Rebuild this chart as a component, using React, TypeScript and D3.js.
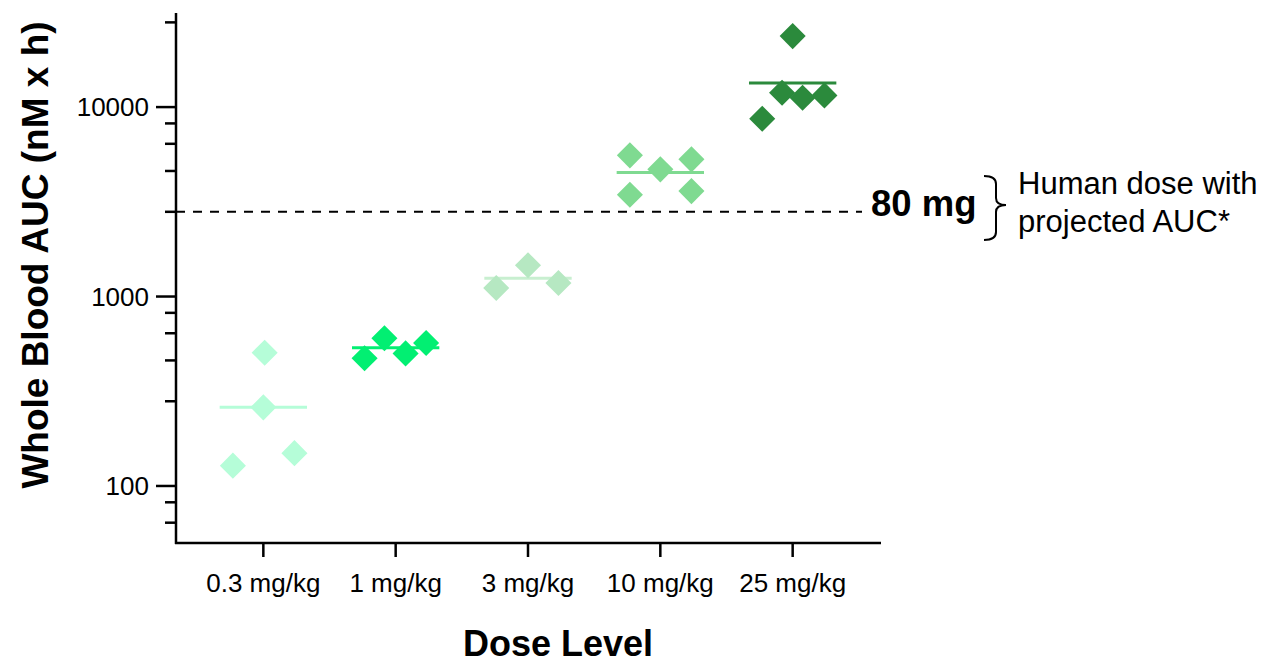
import React from "react";
import * as d3 from "d3";

const categories = ["0.3 mg/kg", "1 mg/kg", "3 mg/kg", "10 mg/kg", "25 mg/kg"];
const values0 = [505, 260, 128, 149];
const values1 = [602, 472, 501, 568];
const values2 = [1461, 1109, 1178];
const values3 = [5561, 4691, 5297, 3449, 3602];
const values4 = [23700, 11912, 11210, 11527, 8685];
const jitter0 = [0.01, 0, -0.23, 0.235];
const jitter1 = [-0.085, -0.235, 0.075, 0.23];
const jitter2 = [0, -0.24, 0.23];
const jitter3 = [-0.23, 0, 0.235, -0.23, 0.235];
const jitter4 = [0, -0.08, 0.075, 0.24, -0.23];
const colors = ["#b5fdd8", "#02ef72", "#b6e8c2", "#7fda91", "#2b8a3c"];
const lineColors = ["#b5fdd8", "#02ef72", "#c8efd0", "#7fda91", "#2b8a3c"];
const majorTicks = [100, 1000, 10000];
const minorTicks = [64, 82, 280, 460, 640, 820, 2800, 4600, 6400, 8200, 28000];
const referenceAUC = 2800;

const allValues = [values0, values1, values2, values3, values4];
const allJitter = [jitter0, jitter1, jitter2, jitter3, jitter4];

const FONT = "'Liberation Sans', Arial, Helvetica, sans-serif";

export default function App() {
  const width = 1268;
  const height = 663;
  const axisX = 176;
  const axisY = 543;

  const x = d3.scalePoint<string>().domain(categories).range([axisX, 880]).padding(0.66);
  const y = d3.scaleLog().domain([50, 31000]).range([axisY, 14]);
  const step = x.step();
  const diamond = d3.symbol().type(d3.symbolSquare).size(340)()!;

  return (
    <svg width={width} height={height} style={{ position: "absolute", left: 0, top: 0, background: "#fff" }}>
      {/* dashed reference */}
      <line x1={axisX} x2={862} y1={y(referenceAUC)} y2={y(referenceAUC)} stroke="#000" strokeWidth={2} strokeDasharray="9 8" />

      {/* data */}
      {allValues.map((vals, gi) => {
        const cx = x(categories[gi])!;
        const mean = d3.mean(vals)!;
        return (
          <g key={gi}>
            <line x1={cx - step * 0.33} x2={cx + step * 0.33} y1={y(mean)} y2={y(mean)} stroke={lineColors[gi]} strokeWidth={3} />
            {vals.map((v, i) => (
              <path key={i} d={diamond} fill={colors[gi]} transform={`translate(${cx + allJitter[gi][i] * step},${y(v)}) rotate(45)`} />
            ))}
          </g>
        );
      })}

      {/* y axis */}
      <line x1={axisX} x2={axisX} y1={13} y2={axisY + 1} stroke="#000" strokeWidth={2.5} />
      {majorTicks.map((t) => (
        <g key={t}>
          <line x1={axisX - 20} x2={axisX} y1={y(t)} y2={y(t)} stroke="#000" strokeWidth={2.5} />
          <text x={149} y={y(t)} dy="0.36em" textAnchor="end" fontFamily={FONT} fontSize={26}>{t}</text>
        </g>
      ))}
      {minorTicks.map((t) => (
        <line key={t} x1={axisX - 11} x2={axisX} y1={y(t)} y2={y(t)} stroke="#000" strokeWidth={2.5} />
      ))}

      {/* x axis */}
      <line x1={axisX - 1} x2={881} y1={axisY} y2={axisY} stroke="#000" strokeWidth={2.5} />
      {categories.map((c) => (
        <g key={c}>
          <line x1={x(c)!} x2={x(c)!} y1={axisY} y2={axisY + 14} stroke="#000" strokeWidth={2.5} />
          <text x={x(c)!} y={592} textAnchor="middle" fontFamily={FONT} fontSize={26}>{c}</text>
        </g>
      ))}

      {/* titles */}
      <text x={558} y={656} textAnchor="middle" fontFamily={FONT} fontSize={36} fontWeight="bold">Dose Level</text>
      <text transform={`translate(48,255) rotate(-90)`} textAnchor="middle" fontFamily={FONT} fontSize={37} fontWeight="bold">Whole Blood AUC (nM x h)</text>

      {/* annotation */}
      <text x={871} y={216} fontFamily={FONT} fontSize={36.5} fontWeight="bold">80 mg</text>
      <path d="M984,176 Q996,176 996,184 L996,198 Q996,205 1006,205 Q996,205 996,212 L996,232 Q996,240 984,240" fill="none" stroke="#000" strokeWidth={2} />
      <text x={1018} y={194} fontFamily={FONT} fontSize={31}>Human dose with</text>
      <text x={1018} y={232} fontFamily={FONT} fontSize={31}>projected AUC*</text>
    </svg>
  );
}
